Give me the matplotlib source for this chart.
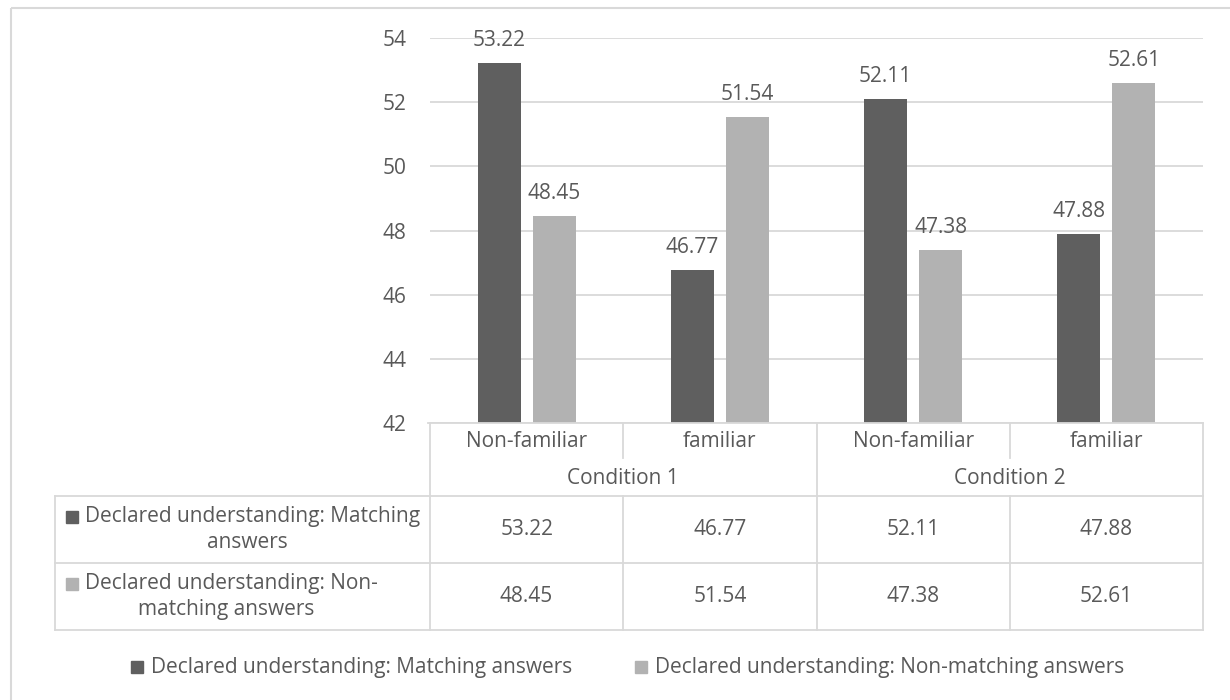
import numpy as np
import matplotlib.pyplot as plt
from matplotlib.patches import Rectangle

plt.rcParams['font.family'] = ['Open Sans', 'DejaVu Sans']

categories = ['Non-familiar', 'familiar', 'Non-familiar', 'familiar']
conditions = ['Condition 1', 'Condition 2']
series_names = ['Declared understanding: Matching answers',
                'Declared understanding: Non-matching answers']
# table row headers, split the way they wrap in the table
table_row_labels = [('Declared understanding: Matching', 'answers'),
                    ('Declared understanding: Non-', 'matching answers')]
matching = [53.22, 46.77, 52.11, 47.88]
non_matching = [48.45, 51.54, 47.38, 52.61]
yticks = [42, 44, 46, 48, 50, 52, 54]

dark = '#5f5f5f'
light = '#b2b2b2'
txt = '#595959'
grid = '#d9d9d9'
fs = 15

W, H = 1230, 700
fig = plt.figure(figsize=(W / 100, H / 100), dpi=100)

# plot area in pixel coords
px0, px1, py_top, py_bot = 430, 1203, 38, 423
ax = fig.add_axes([px0 / W, 1 - py_bot / H, (px1 - px0) / W, (py_bot - py_top) / H])

x = np.arange(len(categories))
bw, off = 0.223, 0.1425
series = [(matching, dark), (non_matching, light)]
for k, (vals, col) in enumerate(series):
    pos = x + (-off if k == 0 else off)
    ax.bar(pos, np.array(vals) - 42, bottom=42, width=bw, color=col, zorder=3)
    for xp, v in zip(pos, vals):
        ax.annotate(f'{v:.2f}', (xp, v), xytext=(0, 12), textcoords='offset pixels',
                    ha='center', va='bottom', fontsize=fs, color=txt)

ax.set_xlim(-0.5, len(categories) - 0.5)
ax.set_ylim(42, 54)
ax.set_yticks(yticks)
ax.tick_params(axis='y', length=0, pad=17, labelsize=fs, labelcolor=txt)
ax.set_xticks([])
ax.yaxis.grid(True, color=grid, lw=1.3, zorder=0)
for s in ax.spines.values():
    s.set_visible(False)

# overlay in pixel coordinates for the data table, legend and frame
ov = fig.add_axes([0, 0, 1, 1])
ov.set_xlim(0, W)
ov.set_ylim(H, 0)
ov.axis('off')
ov.patch.set_alpha(0)

lw = 1.3
ov.add_patch(Rectangle((11, 8), W + 20, H + 20, fill=False, ec=grid, lw=1.5))

cell_w = (px1 - px0) / len(categories)
col_x = [px0 + i * cell_w for i in range(len(categories) + 1)]
row_cat, row_cond, row_a, row_b, row_end = 423, 458, 496, 563, 630
tab_left = 55

# header rows
ov.plot([428, px1], [row_cat, row_cat], color=grid, lw=lw)
for i, cx in enumerate(col_x):
    if i % 2 == 0:
        ov.plot([cx, cx], [row_cat, row_end], color=grid, lw=lw)
    else:
        ov.plot([cx, cx], [row_cat, row_cond], color=grid, lw=lw)
        ov.plot([cx, cx], [row_a, row_end], color=grid, lw=lw)
for yy in (row_a, row_b, row_end):
    ov.plot([tab_left, px1], [yy, yy], color=grid, lw=lw)
ov.plot([tab_left, tab_left], [row_a, row_end], color=grid, lw=lw)

for i, c in enumerate(categories):
    ov.text((col_x[i] + col_x[i + 1]) / 2, (row_cat + row_cond) / 2 + 1, c,
            ha='center', va='center', fontsize=fs, color=txt)
for j, c in enumerate(conditions):
    ov.text((col_x[2 * j] + col_x[2 * j + 2]) / 2, (row_cond + row_a) / 2 + 1, c,
            ha='center', va='center', fontsize=fs, color=txt)

fig.canvas.draw()
rend = fig.canvas.get_renderer()
rows = [(row_a, row_b), (row_b, row_end)]
for (vals, col), (l1, l2), (r0, r1) in zip(series, table_row_labels, rows):
    yc = (r0 + r1) / 2
    # first line: swatch + text, second line centred under the whole first line
    t1 = ov.text(85, yc - 13, l1, ha='left', va='center', fontsize=fs, color=txt)
    ov.add_patch(Rectangle((66, yc - 19), 12, 12, color=col))
    bb = t1.get_window_extent(rend)
    right = bb.x1  # figure pixels equal overlay x units
    ov.text((66 + right) / 2 + 4, yc + 13, l2, ha='center', va='center',
            fontsize=fs, color=txt)
    for i, v in enumerate(vals):
        ov.text((col_x[i] + col_x[i + 1]) / 2, yc, f'{v:.2f}',
                ha='center', va='center', fontsize=fs, color=txt)

# legend
leg_items = [(131, series_names[0], dark), (635, series_names[1], light)]
for lx, name, col in leg_items:
    ov.add_patch(Rectangle((lx, 661), 12, 12, color=col))
    ov.text(lx + 20, 667, name, ha='left', va='center', fontsize=fs, color=txt)

fig.savefig('out.png', dpi=100)
